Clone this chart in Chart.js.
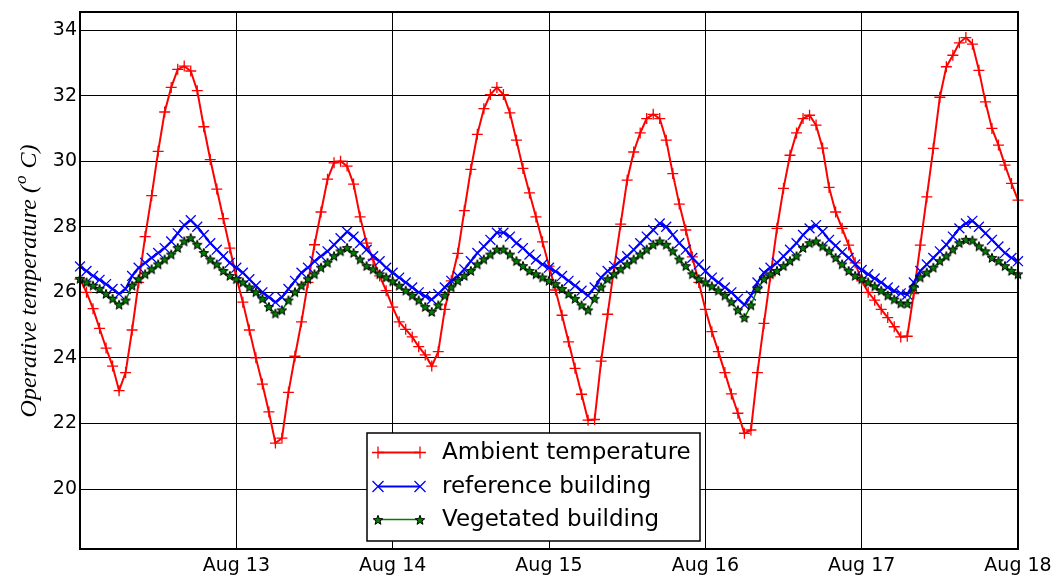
<!DOCTYPE html>
<html><head><meta charset="utf-8">
<script src="https://cdn.jsdelivr.net/npm/chart.js@4.4.1/dist/chart.umd.min.js"></script>
<style>html,body{margin:0;padding:0;background:#fff;}canvas{display:block;}</style>
</head><body>
<canvas id="c" width="1058" height="577"></canvas>
<script>
// ---- data (hourly samples from Aug 12 00:00) ----
const seriesNames = ['Ambient temperature', 'reference building', 'Vegetated building'];
const ambient = [
 26.4,26.0,25.5,24.9,24.3,23.75,23.0,23.55,24.85,26.3,27.7,28.95,30.3,31.5,32.25,32.8,32.9,32.75,32.15,31.05,30.05,29.15,28.25,27.35,
 26.45,25.7,24.85,24.0,23.2,22.35,21.4,21.55,22.95,24.05,25.1,26.3,27.45,28.45,29.45,29.95,30.0,29.85,29.3,28.3,27.5,27.0,26.5,26.05,
 25.55,25.1,24.87,24.64,24.34,24.09,23.75,24.19,25.48,26.35,27.19,28.49,29.75,30.82,31.6,32.03,32.25,32.03,31.47,30.64,29.78,29.03,28.3,27.54,
 26.8,26.07,25.3,24.49,23.68,22.89,22.1,22.12,23.9,25.33,26.75,28.08,29.42,30.28,30.86,31.3,31.43,31.3,30.64,29.62,28.69,27.9,27.08,26.3,
 25.48,24.8,24.19,23.55,22.9,22.31,21.7,21.8,23.55,25.05,26.5,27.95,29.17,30.18,30.86,31.3,31.4,31.1,30.4,29.2,28.45,27.95,27.44,26.9,
 26.35,26.0,25.76,25.48,25.23,24.95,24.64,24.66,25.96,27.44,28.91,30.39,31.95,32.88,33.23,33.61,33.77,33.57,32.77,31.81,31.0,30.49,29.88,29.32,
 28.81,28.3
];
const reference = [
 26.79,26.65,26.5,26.38,26.25,26.1,25.95,26.1,26.5,26.75,26.9,27.05,27.2,27.35,27.55,27.8,28.05,28.2,28.0,27.75,27.5,27.3,27.1,26.9,
 26.75,26.6,26.4,26.2,26.0,25.85,25.7,25.85,26.1,26.35,26.6,26.75,26.95,27.1,27.25,27.45,27.65,27.85,27.7,27.5,27.3,27.1,26.95,26.75,
 26.6,26.45,26.3,26.15,26.0,25.88,25.78,25.95,26.15,26.35,26.5,26.7,26.95,27.2,27.4,27.6,27.82,27.82,27.7,27.5,27.35,27.15,27.0,26.85,
 26.75,26.64,26.5,26.35,26.2,26.05,25.9,26.15,26.45,26.65,26.8,26.95,27.1,27.3,27.5,27.7,27.9,28.1,28.0,27.75,27.5,27.3,27.05,26.85,
 26.65,26.45,26.3,26.15,26.0,25.8,25.62,25.9,26.3,26.6,26.75,26.9,27.1,27.3,27.5,27.75,27.95,28.05,27.85,27.6,27.42,27.22,27.05,26.85,
 26.68,26.55,26.42,26.3,26.15,26.05,25.97,25.93,26.3,26.65,26.85,27.05,27.25,27.45,27.7,27.95,28.1,28.18,28.0,27.8,27.6,27.4,27.2,27.05,
 26.95,26.85
];
const vegetated = [
 26.41,26.3,26.2,26.1,25.95,25.8,25.62,25.75,26.2,26.4,26.55,26.7,26.85,27.0,27.15,27.35,27.55,27.65,27.45,27.2,27.0,26.85,26.65,26.5,
 26.4,26.3,26.15,26.0,25.8,25.55,25.35,25.45,25.75,26.0,26.2,26.4,26.55,26.75,26.9,27.1,27.25,27.35,27.2,27.0,26.8,26.7,26.55,26.45,
 26.33,26.2,26.05,25.9,25.75,25.55,25.4,25.6,25.9,26.15,26.35,26.5,26.65,26.85,27.0,27.15,27.3,27.3,27.15,26.95,26.8,26.65,26.55,26.45,
 26.35,26.25,26.1,25.95,25.8,25.6,25.45,25.8,26.15,26.4,26.55,26.7,26.85,27.0,27.15,27.3,27.45,27.55,27.45,27.25,27.0,26.8,26.55,26.4,
 26.3,26.18,26.05,25.9,25.7,25.45,25.22,25.6,26.1,26.4,26.55,26.65,26.8,26.95,27.1,27.35,27.5,27.55,27.4,27.25,27.05,26.85,26.65,26.5,
 26.4,26.3,26.18,26.05,25.9,25.78,25.66,25.65,26.15,26.45,26.6,26.75,26.95,27.1,27.3,27.5,27.6,27.58,27.4,27.25,27.05,26.95,26.8,26.65,
 26.55,26.45
];
const xTickHours = [24, 48, 72, 96, 120, 144];
const xTickLabels = ['Aug 13', 'Aug 14', 'Aug 15', 'Aug 16', 'Aug 17', 'Aug 18'];
const yTicks = [20, 22, 24, 26, 28, 30, 32, 34];
const yTitle = ['Operative temperature (', 'o', ' C)'];

// ---- styles ----
function makeStar(){
  const s = document.createElement('canvas'); s.width = 12; s.height = 12;
  const c = s.getContext('2d');
  c.beginPath();
  for (let k = 0; k < 10; k++) {
    const r = (k % 2) ? 2.1 : 5.0;
    const a = -Math.PI / 2 + k * Math.PI / 5;
    c.lineTo(6 + r * Math.cos(a), 6.3 + r * Math.sin(a));
  }
  c.closePath();
  c.fillStyle = '#008000'; c.fill();
  c.strokeStyle = '#000'; c.lineWidth = 1; c.stroke();
  return s;
}
const star = makeStar();
const toXY = arr => arr.map((v, i) => ({x: i, y: v}));

const styles = [
  {color: '#ff0000', lw: 2, pointStyle: 'cross', radius: 5.5, pbw: 1.3, pcolor: '#ff0000'},
  {color: '#0000ff', lw: 2.2, pointStyle: 'crossRot', radius: 7, pbw: 1.3, pcolor: '#0000ff'},
  {color: '#008000', lw: 1.5, pointStyle: star, radius: 5, pbw: 1, pcolor: '#000'}
];
const seriesData = [ambient, reference, vegetated];

const datasets = seriesData.map((arr, i) => ({
  label: seriesNames[i],
  data: toXY(arr),
  borderColor: styles[i].color,
  backgroundColor: styles[i].color,
  borderWidth: styles[i].lw,
  pointStyle: styles[i].pointStyle,
  pointRadius: styles[i].radius,
  pointBorderWidth: styles[i].pbw,
  pointBorderColor: styles[i].pcolor,
  pointBackgroundColor: styles[i].color,
  tension: 0,
  fill: false,
  clip: false,
  order: 3 - i
}));

function drawLegendMarker(ctx, i, x, y){
  ctx.save();
  if (i === 0) {
    ctx.strokeStyle = '#ff0000'; ctx.lineWidth = 1.3;
    ctx.beginPath(); ctx.moveTo(x - 6, y); ctx.lineTo(x + 6, y); ctx.moveTo(x, y - 6); ctx.lineTo(x, y + 6); ctx.stroke();
  } else if (i === 1) {
    ctx.strokeStyle = '#0000ff'; ctx.lineWidth = 1.3;
    const d = 5.5;
    ctx.beginPath(); ctx.moveTo(x - d, y - d); ctx.lineTo(x + d, y + d); ctx.moveTo(x - d, y + d); ctx.lineTo(x + d, y - d); ctx.stroke();
  } else {
    ctx.drawImage(star, Math.round(x) - 6, Math.round(y) - 6);
  }
  ctx.restore();
}

const deco = {
  id: 'deco',
  afterDraw(chart){
    const ctx = chart.ctx, a = chart.chartArea;
    ctx.save();
    // frame
    ctx.strokeStyle = '#000'; ctx.lineWidth = 2;
    ctx.strokeRect(a.left, a.top, a.right - a.left, a.bottom - a.top);
    // legend
    const lx = 367, ly = 433, lw = 333, lh = 108;
    ctx.fillStyle = '#fff'; ctx.fillRect(lx, ly, lw, lh);
    ctx.lineWidth = 1.5; ctx.strokeStyle = '#000'; ctx.strokeRect(lx, ly, lw, lh);
    const rows = [452.5, 486.5, 519.5];
    ctx.font = '23px "DejaVu Sans"'; ctx.textBaseline = 'middle'; ctx.textAlign = 'left';
    chart.data.datasets.forEach((ds, i) => {
      const y = rows[i];
      ctx.strokeStyle = ds.borderColor; ctx.lineWidth = ds.borderWidth;
      ctx.beginPath(); ctx.moveTo(378, y); ctx.lineTo(420, y); ctx.stroke();
      drawLegendMarker(ctx, i, 378, y); drawLegendMarker(ctx, i, 420, y);
      ctx.fillStyle = '#000'; ctx.fillText(ds.label, 442, y + 1);
    });
    // y title (rotated, italic serif with superscript)
    ctx.translate(28, 281); ctx.rotate(-Math.PI / 2);
    const big = 'italic 24px "Liberation Serif"', small = 'italic 17px "Liberation Serif"';
    ctx.font = big; const w1 = ctx.measureText(yTitle[0]).width, w3 = ctx.measureText(yTitle[2]).width;
    ctx.font = small; const w2 = ctx.measureText(yTitle[1]).width;
    let x0 = -(w1 + w2 + w3 + 2) / 2;
    ctx.textBaseline = 'alphabetic'; ctx.fillStyle = '#000';
    ctx.font = big; ctx.fillText(yTitle[0], x0, 8);
    ctx.font = small; ctx.fillText(yTitle[1], x0 + w1 + 1, -2);
    ctx.font = big; ctx.fillText(yTitle[2], x0 + w1 + w2 + 2, 8);
    ctx.restore();
  }
};

new Chart(document.getElementById('c'), {
  type: 'line',
  data: {datasets},
  options: {
    responsive: false, animation: false, devicePixelRatio: 1,
    layout: {padding: {left: 0, top: 12, right: 40, bottom: 0}},
    plugins: {legend: {display: false}, tooltip: {enabled: false}},
    scales: {
      x: {
        type: 'linear', min: 0, max: 144,
        afterBuildTicks: s => { s.ticks = xTickHours.map(v => ({value: v})); },
        afterFit: s => { s.height = 28; s.paddingLeft = 0; s.paddingRight = 0; },
        ticks: {
          autoSkip: false, maxRotation: 0, padding: 6, color: '#000',
          font: {family: 'DejaVu Sans', size: 19},
          callback: v => xTickLabels[xTickHours.indexOf(v)]
        },
        grid: {color: '#000', lineWidth: 1, drawTicks: false},
        border: {display: true, color: '#000', width: 2}
      },
      y: {
        type: 'linear', min: 18.17, max: 34.55,
        afterBuildTicks: s => { s.ticks = yTicks.map(v => ({value: v})); },
        afterFit: s => { s.width = 80; s.paddingTop = 0; s.paddingBottom = 0; },
        ticks: {
          padding: 3, color: '#000',
          font: {family: 'DejaVu Sans', size: 19},
          callback: v => String(v)
        },
        grid: {color: '#000', lineWidth: 1, drawTicks: false},
        border: {display: true, color: '#000', width: 2}
      }
    }
  },
  plugins: [deco]
});
</script>
</body></html>
